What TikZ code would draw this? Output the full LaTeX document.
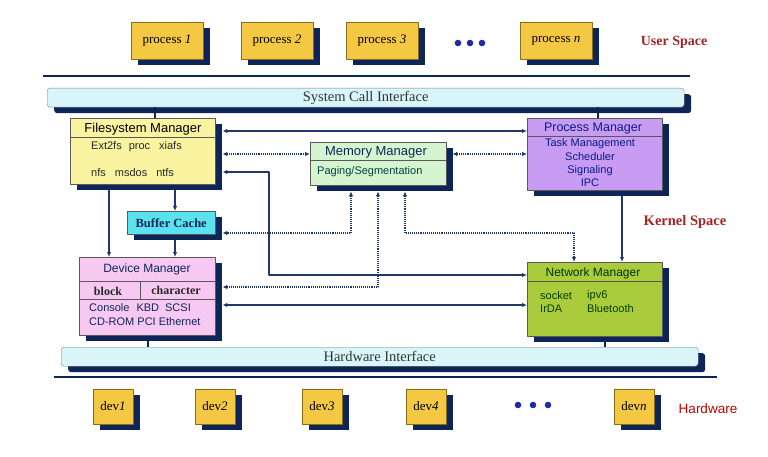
\documentclass[tikz,border=0pt]{standalone}
\usepackage{fontspec}
\setmainfont{Liberation Serif}
\setsansfont{Liberation Sans}
\usetikzlibrary{arrows.meta,shadows}
\definecolor{navy}{HTML}{0E2657}
\definecolor{wire}{HTML}{1F3A6A}
\definecolor{procfill}{HTML}{F4C843}
\definecolor{procline}{HTML}{8A6D1A}
\definecolor{barfill}{HTML}{D8F6FA}
\definecolor{fsfill}{HTML}{FAF4A0}
\definecolor{bcfill}{HTML}{5CE1EE}
\definecolor{mmfill}{HTML}{D5F5D0}
\definecolor{pmfill}{HTML}{C79CF2}
\definecolor{dmfill}{HTML}{F7C9F2}
\definecolor{nmfill}{HTML}{A9CB3C}
\definecolor{spacered}{HTML}{A42424}
\definecolor{dotblue}{HTML}{1C2CA8}
\newcommand{\fsz}[1]{\fontsize{#1}{#1}\selectfont}
\begin{document}
\begin{tikzpicture}[x=1pt,y=-1pt,line join=round,
  shad/.style={drop shadow={shadow xshift=7pt,shadow yshift=-6pt,fill=navy,opacity=1}},
  proc/.style={shad,draw=procline,fill=procfill,minimum width=72pt,minimum height=37pt,inner sep=0pt,font=\fsz{13}},
  devbox/.style={proc,minimum width=40pt,minimum height=35pt},
  ifbar/.style={shad,rounded corners=3pt,draw=gray,fill=barfill,minimum width=637pt,minimum height=19pt,inner sep=0pt,anchor=north west,font=\fsz{14.5},text=black!80},
  mgr/.style={shad,draw=gray!70!black,inner sep=0pt,anchor=north west},
  ttl/.style={inner sep=0pt,font=\sffamily\fsz{12}},
  sub/.style={inner sep=0pt,font=\sffamily\fsz{11}},
  area/.style={inner sep=0pt,text=spacered,font=\bfseries\fsz{14.5}},
  conn/.style={wire,line width=1.1pt,{Latex[length=5pt,width=4.5pt]}-{Latex[length=5pt,width=4.5pt]}},
  dconn/.style={conn,densely dotted},
  arr/.style={wire,line width=1.1pt,-{Latex[length=5pt,width=4.5pt]}}]
\useasboundingbox (0,0) rectangle (768,457);
\node[proc] (p1) at (167,40.5) {process \textit{1}};
\node[proc] (p2) at (277,40.5) {process \textit{2}};
\node[proc] (p3) at (382,40.5) {process \textit{3}};
\node[proc] (pn) at (556,40.5) {process \textit{n}};
\fill[dotblue] (458,43) circle (3.3pt) (470,43) circle (3.3pt) (482,43) circle (3.3pt);
\node[area,font=\bfseries\fsz{14}] (us) at (674,42) {User Space};
\draw[navy,line width=2.5pt] (43,76) -- (690,76);
\node[ifbar] (sci) at (47,88) {System Call Interface};
\node[mgr,fill=fsfill,minimum width=145pt,minimum height=66pt] (fs) at (70,118) {};
\draw[gray!70!black] (fs.north west) ++(0,19) -- ++(145,0);
\node[ttl,font=\sffamily\fsz{13}] (fst) at (143,129) {Filesystem Manager};
\node[sub,anchor=west,text=black!85] (fs1) at (91,147) {Ext2fs\hspace{7pt}proc\hspace{9pt}xiafs};
\node[sub,anchor=west,text=black!85] (fs2) at (91,173) {nfs\hspace{9pt}msdos\hspace{9pt}ntfs};
\node[mgr,fill=mmfill,minimum width=136pt,minimum height=43pt] (mm) at (310,142) {};
\draw[gray!70!black] (mm.north west) ++(0,18) -- ++(136,0);
\node[ttl,font=\sffamily\fsz{13},text=navy] (mmt) at (376,152) {Memory Manager};
\node[sub,anchor=west,text=teal!50!black] (mm1) at (317,172) {Paging/Segmentation};
\node[mgr,fill=pmfill,minimum width=135pt,minimum height=72pt] (pm) at (527,118) {};
\draw[gray!70!black] (pm.north west) ++(0,18) -- ++(135,0);
\node[ttl,font=\sffamily\fsz{12.5},text=navy!70!blue] (pmt) at (593,128) {Process Manager};
\node[sub,text=navy!70!blue,align=center,font=\sffamily\fontsize{11}{13.3}\selectfont] (pm1) at (590,163) {Task Management\\Scheduler\\Signaling\\IPC};
\node[mgr,fill=bcfill,minimum width=88pt,minimum height=23pt,font=\bfseries\fsz{12.5},text=navy] (bc) at (127,211) {Buffer Cache};
\node[mgr,fill=dmfill,minimum width=136pt,minimum height=78pt] (dm) at (79,257) {};
\draw[gray!70!black] (dm.north west) ++(0,24) -- ++(136,0) (dm.north west) ++(0,42) -- ++(136,0) (140,281) -- (140,299);
\node[ttl,text=navy] (dmt) at (147,269) {Device Manager};
\node[inner sep=0pt,font=\bfseries\fsz{12},text=black!85] (blk) at (108,291) {block};
\node[inner sep=0pt,font=\bfseries\fsz{12},text=black!85] (chr) at (176,290) {character};
\node[sub,anchor=west,text=navy] (dm1) at (89,308) {Console\hspace{7pt}KBD\hspace{6pt}SCSI};
\node[sub,anchor=west,text=navy] (dm2) at (89,322) {CD-ROM PCI Ethernet};
\node[mgr,fill=nmfill,minimum width=135pt,minimum height=74pt] (nm) at (527,262) {};
\draw[gray!70!black] (nm.north west) ++(0,19) -- ++(135,0);
\node[ttl,text=green!20!black] (nmt) at (593,273) {Network Manager};
\node[sub,anchor=west,text=green!25!black] (nm1) at (540,296) {socket};
\node[sub,anchor=west,text=green!25!black] (nm2) at (587,296) {ipv6};
\node[sub,anchor=west,text=green!25!black] (nm3) at (540,309) {IrDA};
\node[sub,anchor=west,text=green!25!black] (nm4) at (587,309) {Bluetooth};
\node[area] (ks) at (685,222) {Kernel Space};
\node[ifbar] (hwi) at (61,347) {Hardware Interface};
\draw[navy,line width=1.5pt] (sci.south -| 155,0) -- (fs.north -| 155,0) (sci.south -| 598,0) -- (pm.north -| 598,0);
\draw[navy,line width=1.5pt] ([yshift=-6pt]dm.south -| 148,0) -- (hwi.north -| 148,0) ([yshift=-6pt]nm.south -| 605,0) -- (hwi.north -| 605,0);
\draw[conn] ([xshift=7pt]fs.east |- 0,131) -- (pm.west |- 0,131);
\draw[dconn] ([xshift=7pt]fs.east |- 0,154) -- (mm.west |- 0,154);
\draw[dconn] ([xshift=6pt]mm.east |- 0,154) -- (pm.west |- 0,154);
\draw[conn] ([xshift=7pt]fs.east |- 0,172) -| (269,275) -- (nm.west |- 0,275);
\draw[dconn] ([yshift=-6pt]mm.south -| 351,0) |- ([xshift=7pt]bc.east |- 0,233);
\draw[dconn] ([yshift=-6pt]mm.south -| 378,0) |- ([xshift=7pt]dm.east |- 0,287);
\draw[dconn] ([yshift=-6pt]mm.south -| 405,0) |- (574,233) -- (nm.north -| 574,0);
\draw[conn] ([xshift=7pt]dm.east |- 0,305) -- (nm.west |- 0,305);
\draw[arr] ([yshift=-6pt]pm.south -| 622,0) -- (nm.north -| 622,0);
\draw[arr] ([yshift=-6pt]fs.south -| 175,0) -- (bc.north -| 175,0);
\draw[arr] ([yshift=-6pt]fs.south -| 109,0) -- (dm.north -| 109,0);
\draw[arr] ([yshift=-6pt]bc.south -| 175,0) -- (dm.north -| 175,0);
\draw[navy,line width=2.5pt] (54,377) -- (717,377);
\node[devbox] (d1) at (113,406.5) {dev\textit{1}};
\node[devbox] (d2) at (215,406.5) {dev\textit{2}};
\node[devbox] (d3) at (322,406.5) {dev\textit{3}};
\node[devbox] (d4) at (426,406.5) {dev\textit{4}};
\node[devbox] (dn) at (634,406.5) {dev\textit{n}};
\fill[dotblue] (518,405) circle (3.3pt) (533,405) circle (3.3pt) (548,405) circle (3.3pt);
\node[inner sep=0pt,font=\sffamily\fsz{13.5},text=red!75!black] (hw) at (708,409) {Hardware};
\end{tikzpicture}
\end{document}
